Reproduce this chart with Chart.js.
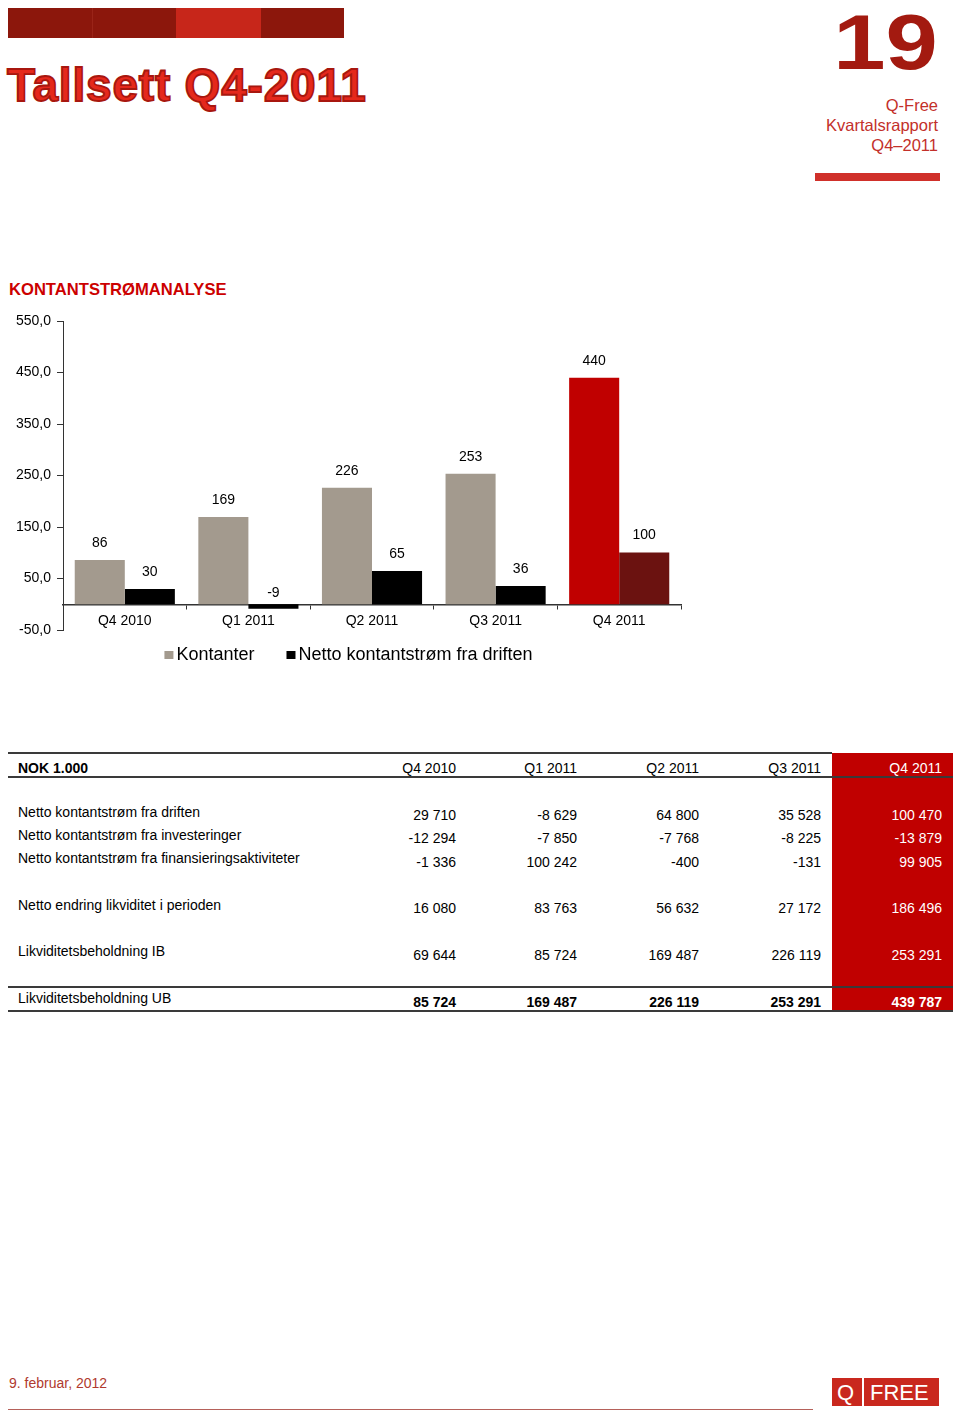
<!DOCTYPE html>
<html>
<head>
<meta charset="utf-8">
<script src="https://cdn.jsdelivr.net/npm/chart.js@4"></script>
<style>
  body { margin: 0; width: 960px; height: 1421px; background: #fff; position: relative; font-family: "Liberation Sans", Arial, sans-serif; overflow: hidden; }
  .abs { position: absolute; white-space: nowrap; }
  .bar { position: absolute; top: 8px; height: 30px; }
  #title { left: 7px; top: 62px; font-size: 46px; line-height: 46px; font-weight: bold; color: #e5281c; -webkit-text-stroke: 1.8px #a8170f; letter-spacing: 0.8px; }
  #pageno { right: 22px; top: 4px; font-size: 77px; line-height: 77px; font-weight: bold; color: #a31a10; transform: scaleX(1.22); transform-origin: right center; }
  #report { right: 22px; top: 95px; font-size: 16.5px; line-height: 20px; color: #c3302a; text-align: right; }
  #section { left: 9px; top: 282px; font-size: 16.6px; line-height: 16px; font-weight: bold; color: #cc0000; }
  #chartbox { position: absolute; left: 0; top: 300px; width: 700px; height: 380px; }
  .cell { position: absolute; font-size: 14px; line-height: 14px; white-space: nowrap; color: #000; }
  .hline { position: absolute; height: 1.5px; background: #3a3a3a; }
</style>
</head>
<body>
<div class="bar" style="left:8px;width:84px;background:#8c170c"></div>
<div class="bar" style="left:92px;width:84px;background:#8c170c;border-left:1px solid #9a2418"></div>
<div class="bar" style="left:176px;width:85px;background:#c7261a"></div>
<div class="bar" style="left:261px;width:83px;background:#8c170c"></div>
<div id="title" class="abs">Tallsett Q4-2011</div>
<div id="pageno" class="abs">19</div>
<div id="report" class="abs">Q-Free<br>Kvartalsrapport<br>Q4–2011</div>
<div class="abs" style="left:815px;top:173px;width:125px;height:8px;background:#d0302a"></div>
<div id="section" class="abs">KONTANTSTRØMANALYSE</div>
<div id="chartbox"><canvas id="myChart" width="700" height="380"></canvas></div>
<div id="table"></div>
<div class="abs" style="left:9px;top:1376px;font-size:14px;line-height:14px;color:#b03a2e">9. februar, 2012</div>
<div class="abs" style="left:8px;top:1409px;width:805px;height:1px;background:#b5615a"></div>
<div class="abs" style="left:832px;top:1378px;width:107px;height:28px;background:#c9281e"></div>
<div class="abs" style="left:837px;top:1382px;font-size:22px;line-height:22px;color:#fff">Q</div>
<div class="abs" style="left:862px;top:1378px;width:1.5px;height:28px;background:#fff"></div>
<div class="abs" style="left:870px;top:1382px;font-size:22px;line-height:22px;color:#fff">FREE</div>
<script>
// chart data (NOK mill.)
const quarters = ['Q4 2010', 'Q1 2011', 'Q2 2011', 'Q3 2011', 'Q4 2011'];
const kontanter = [85.724, 169.487, 226.119, 253.291, 439.787];
const nettoDrift = [29.710, -8.629, 64.800, 35.528, 100.470];
const yMin = -50, yMax = 550, yStep = 100;

// table data
const tableTitle = 'NOK 1.000';
const rowLabels = [
  'Netto kontantstrøm fra driften',
  'Netto kontantstrøm fra investeringer',
  'Netto kontantstrøm fra finansieringsaktiviteter',
  'Netto endring likviditet i perioden',
  'Likviditetsbeholdning IB',
  'Likviditetsbeholdning UB'
];
const rowValues = [
  ['29 710', '-8 629', '64 800', '35 528', '100 470'],
  ['-12 294', '-7 850', '-7 768', '-8 225', '-13 879'],
  ['-1 336', '100 242', '-400', '-131', '99 905'],
  ['16 080', '83 763', '56 632', '27 172', '186 496'],
  ['69 644', '85 724', '169 487', '226 119', '253 291'],
  ['85 724', '169 487', '226 119', '253 291', '439 787']
];

// colours
const grey = '#a39a8e', red = '#c00000', black = '#000000', darkred = '#6b1210';
const kontColors = quarters.map((q, i) => i == quarters.length - 1 ? red : grey);
const driftColors = quarters.map((q, i) => i == quarters.length - 1 ? darkred : black);

Chart.defaults.font.family = '"Liberation Sans", Arial, sans-serif';
Chart.defaults.color = '#000';

const valueLabels = {
  id: 'valueLabels',
  afterDatasetsDraw(chart) {
    const ctx = chart.ctx;
    ctx.save();
    ctx.font = '14px "Liberation Sans", Arial';
    ctx.fillStyle = '#000';
    ctx.textAlign = 'center';
    ctx.textBaseline = 'middle';
    chart.data.datasets.forEach((ds, i) => {
      chart.getDatasetMeta(i).data.forEach((bar, j) => {
        const v = ds.data[j];
        const y = v >= 0 ? bar.y - 17 : bar.base - 11;
        ctx.fillText(Math.round(v), bar.x, y);
      });
    });
    ctx.restore();
  }
};

const bottomLegend = {
  id: 'bottomLegend',
  afterDraw(chart) {
    const ctx = chart.ctx;
    ctx.save();
    ctx.font = '18px "Liberation Sans", Arial';
    ctx.textBaseline = 'middle';
    ctx.textAlign = 'left';
    const items = chart.data.datasets;
    const widths = items.map(ds => 13 + ctx.measureText(ds.label).width);
    const total = widths.reduce((a, b) => a + b, 0) + 31 * (items.length - 1);
    let x = chart.width / 2 - 1 - total / 2;
    const y = 355;
    items.forEach((ds, k) => {
      ctx.fillStyle = ds.legendColor;
      ctx.fillRect(x, y - 4, 9, 8);
      ctx.fillStyle = '#000';
      ctx.fillText(ds.label, x + 12, y);
      x += widths[k] + 31;
    });
    ctx.restore();
  }
};

new Chart(document.getElementById('myChart'), {
  type: 'bar',
  data: {
    labels: quarters,
    datasets: [{
      label: 'Kontanter',
      data: kontanter,
      backgroundColor: kontColors,
      legendColor: grey
    },
    {
      label: 'Netto kontantstrøm fra driften',
      data: nettoDrift,
      backgroundColor: driftColors,
      legendColor: black
    }]
  },
  options: {
    responsive: false,
    animation: false,
    layout: { padding: { left: 0, right: 19, top: 21, bottom: 50 } },
    datasets: { bar: { categoryPercentage: 0.81, barPercentage: 1 } },
    plugins: { legend: { display: false }, tooltip: { enabled: false } },
    scales: {
      x: {
        position: { y: 0 },
        grid: { drawOnChartArea: false, tickLength: 4, color: '#333' },
        border: { color: '#333', width: 1.5 },
        ticks: { font: { size: 14 }, padding: 4, maxRotation: 0 }
      },
      y: {
        min: yMin,
        max: yMax,
        ticks: {
          stepSize: yStep,
          font: { size: 14 },
          padding: 6,
          callback: v => v.toFixed(1).replace('.', ',')
        },
        grid: { drawOnChartArea: false, tickLength: 6, color: '#333' },
        border: { color: '#333', width: 1 },
        afterFit: s => { s.width = 63; }
      }
    }
  },
  plugins: [valueLabels, bottomLegend]
});

// table layout
const colRight = [456, 577, 699, 821, 942];
const headerY = 768;
const labelY = [812, 835, 858, 905, 951, 998];
const valueY = [815, 838, 862, 908, 955, 1002];
const table = document.getElementById('table');
function cell(text, x, y, opts) {
  const d = document.createElement('div');
  d.className = 'cell';
  d.textContent = text;
  d.style.top = (y - 7) + 'px';
  if (opts.right) d.style.right = (960 - x) + 'px'; else d.style.left = x + 'px';
  if (opts.bold) d.style.fontWeight = 'bold';
  if (opts.color) d.style.color = opts.color;
  table.appendChild(d);
}
function line(x1, x2, y) {
  const d = document.createElement('div');
  d.className = 'hline';
  d.style.left = x1 + 'px';
  d.style.width = (x2 - x1) + 'px';
  d.style.top = (y - 1) + 'px';
  table.appendChild(d);
}
const redCol = document.createElement('div');
redCol.className = 'abs';
redCol.style.cssText = 'left:832px;top:753px;width:121px;height:258px;background:#c00000';
table.appendChild(redCol);
line(8, 832, 753);
line(8, 953, 777);
line(8, 953, 987);
line(8, 953, 1011);
cell(tableTitle, 18, headerY, { bold: true });
quarters.forEach((q, c) => {
  cell(q, colRight[c], headerY, { right: true, color: c == 4 ? '#fff' : '#000' });
});
rowLabels.forEach((lab, r) => {
  cell(lab, 18, labelY[r], {});
  rowValues[r].forEach((v, c) => {
    cell(v, colRight[c], valueY[r], { right: true, bold: r == 5, color: c == 4 ? '#fff' : '#000' });
  });
});
</script>
</body>
</html>
